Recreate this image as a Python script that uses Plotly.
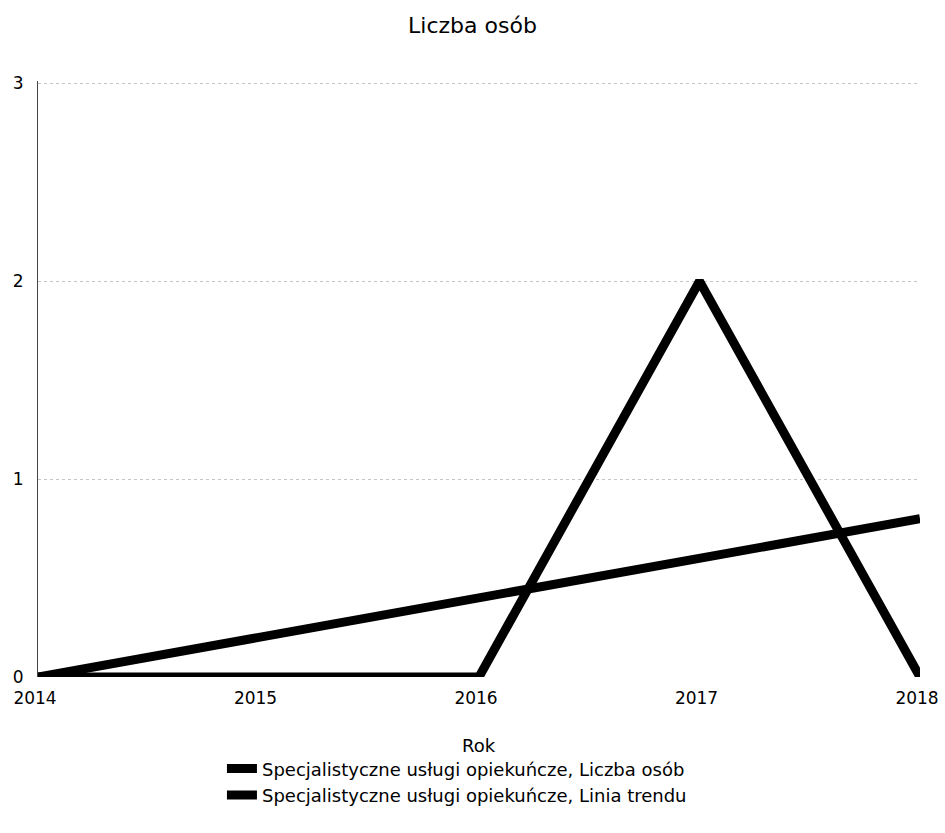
import plotly.graph_objects as go

years = [2014, 2015, 2016, 2017, 2018]
liczba_osob = [0, 0, 0, 2, 0]
trend_x = [2014, 2018]
trend_y = [0.0, 0.8]
y_ticks = [0, 1, 2, 3]

FONT = "DejaVu Sans"
W, H = 945, 833

fig = go.Figure()
fig.add_trace(go.Scatter(
    x=years, y=liczba_osob, mode="lines",
    name="Specjalistyczne usługi opiekuńcze, Liczba osób",
    line=dict(color="black", width=9), cliponaxis=False))
fig.add_trace(go.Scatter(
    x=trend_x, y=trend_y, mode="lines",
    name="Specjalistyczne usługi opiekuńcze, Linia trendu",
    line=dict(color="black", width=9), cliponaxis=False))

fig.update_layout(
    width=W, height=H,
    paper_bgcolor="white", plot_bgcolor="white",
    margin=dict(l=38, r=25, t=81, b=156, autoexpand=False),
    font=dict(family=FONT, size=17, color="black"),
    title=dict(text="Liczba osób", x=0.5, xanchor="center",
               y=1 - 25 / H, yanchor="middle", font=dict(size=22)),
    xaxis=dict(range=[2014, 2018], tickmode="array", tickvals=years,
               ticktext=[str(y) for y in years], showgrid=False, zeroline=False,
               automargin=False, ticklabelshift=-3,
               ticks="outside", ticklen=6, tickcolor="rgba(0,0,0,0)",
               showline=False),
    yaxis=dict(range=[0, 3.012], tickmode="array", tickvals=y_ticks,
               showgrid=True, gridcolor="#c4c4c4", griddash="dot", gridwidth=1,
               zeroline=False, showline=True, linecolor="#444444", linewidth=1,
               automargin=False,
               ticks="outside", ticklen=10, tickcolor="rgba(0,0,0,0)"),
    legend=dict(orientation="v", x=0.475, xanchor="center", y=-0.123,
                yanchor="top", font=dict(size=18), tracegroupgap=0,
                itemwidth=30),
    showlegend=True,
    annotations=[dict(text="Rok", xref="paper", yref="paper", x=0.5,
                      y=-(745 - 677) / 594, xanchor="center", yanchor="middle",
                      showarrow=False, font=dict(size=18))],
)
fig.write_html("out.html", config={"displayModeBar": False},
               post_script="document.body.style.margin='0';")
